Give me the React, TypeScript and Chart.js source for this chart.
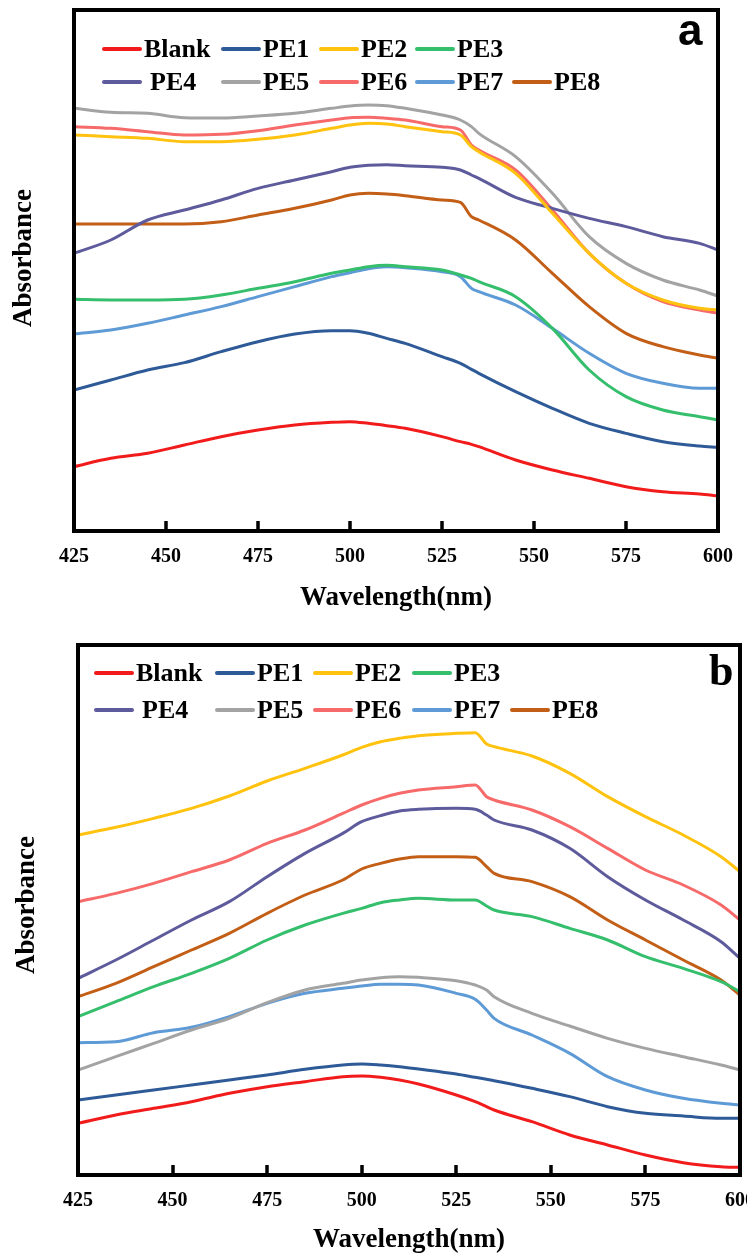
import React, { useEffect, useRef } from "react";
import { Chart, registerables } from "chart.js";

Chart.register(...registerables);

// ---------- data ----------
const WAVELENGTHS = [425, 435, 445, 455, 465, 475, 485, 495, 500, 505, 510, 515, 525, 530, 533, 535, 545, 555, 565, 575, 585, 595, 600];
const X_TICKS = [425, 450, 475, 500, 525, 550, 575, 600];
const SERIES_LABELS = ["Blank", "PE1", "PE2", "PE3", "PE4", "PE5", "PE6", "PE7", "PE8"];
const SERIES_COLORS = ["#F21B1B", "#2E5A98", "#FFC20E", "#35BE6C", "#5E5B9C", "#A3A3A3", "#F76A6A", "#5E9BD6", "#C35E16"];
const Y_TITLE = "Absorbance";
const X_TITLE = "Wavelength(nm)";

// Panel a
const A_BLANK = [0.193, 0.218, 0.233, 0.258, 0.283, 0.303, 0.318, 0.326, 0.328, 0.323, 0.316, 0.308, 0.283, 0.268, 0.260, 0.253, 0.213, 0.183, 0.158, 0.133, 0.118, 0.111, 0.105];
const A_PE1 = [0.423, 0.453, 0.483, 0.505, 0.538, 0.568, 0.591, 0.601, 0.601, 0.593, 0.578, 0.563, 0.523, 0.503, 0.485, 0.473, 0.418, 0.368, 0.323, 0.293, 0.268, 0.255, 0.251];
const A_PE2 = [1.188, 1.183, 1.178, 1.168, 1.168, 1.175, 1.188, 1.208, 1.218, 1.223, 1.221, 1.213, 1.198, 1.188, 1.153, 1.138, 1.073, 0.953, 0.833, 0.743, 0.693, 0.668, 0.663];
const A_PE3 = [0.695, 0.693, 0.693, 0.695, 0.708, 0.728, 0.748, 0.773, 0.783, 0.793, 0.797, 0.793, 0.783, 0.768, 0.758, 0.748, 0.703, 0.608, 0.483, 0.403, 0.363, 0.343, 0.333];
const A_PE4 = [0.833, 0.873, 0.933, 0.963, 0.993, 1.028, 1.053, 1.078, 1.091, 1.097, 1.099, 1.096, 1.091, 1.083, 1.068, 1.058, 1.001, 0.968, 0.938, 0.913, 0.883, 0.863, 0.843];
const A_PE5 = [1.268, 1.256, 1.253, 1.240, 1.239, 1.245, 1.253, 1.268, 1.275, 1.278, 1.276, 1.268, 1.248, 1.233, 1.213, 1.193, 1.123, 1.013, 0.883, 0.803, 0.753, 0.723, 0.705];
const A_PE6 = [1.213, 1.208, 1.198, 1.188, 1.190, 1.201, 1.218, 1.233, 1.240, 1.241, 1.238, 1.233, 1.213, 1.203, 1.158, 1.143, 1.083, 0.963, 0.833, 0.743, 0.688, 0.663, 0.653];
const A_PE7 = [0.591, 0.603, 0.623, 0.648, 0.673, 0.703, 0.733, 0.763, 0.775, 0.787, 0.793, 0.790, 0.778, 0.763, 0.728, 0.718, 0.678, 0.608, 0.533, 0.473, 0.443, 0.428, 0.428];
const A_PE8 = [0.921, 0.921, 0.921, 0.921, 0.928, 0.948, 0.968, 0.993, 1.008, 1.013, 1.011, 1.006, 0.993, 0.986, 0.943, 0.933, 0.873, 0.773, 0.673, 0.593, 0.553, 0.528, 0.518];

// Panel b
const B_BLANK = [0.155, 0.180, 0.200, 0.220, 0.245, 0.265, 0.280, 0.295, 0.297, 0.293, 0.285, 0.273, 0.240, 0.220, 0.205, 0.195, 0.160, 0.120, 0.090, 0.060, 0.037, 0.025, 0.023];
const B_PE1 = [0.225, 0.240, 0.255, 0.270, 0.285, 0.300, 0.317, 0.330, 0.333, 0.330, 0.325, 0.318, 0.303, 0.293, 0.287, 0.283, 0.260, 0.235, 0.205, 0.185, 0.177, 0.170, 0.170];
const B_PE2 = [1.020, 1.043, 1.070, 1.100, 1.137, 1.182, 1.220, 1.260, 1.283, 1.300, 1.310, 1.318, 1.325, 1.327, 1.293, 1.285, 1.257, 1.205, 1.135, 1.075, 1.020, 0.955, 0.910];
const B_PE3 = [0.475, 0.520, 0.565, 0.605, 0.650, 0.705, 0.750, 0.785, 0.800, 0.817, 0.825, 0.830, 0.825, 0.825, 0.807, 0.795, 0.775, 0.740, 0.705, 0.655, 0.620, 0.580, 0.550];
const B_PE4 = [0.590, 0.645, 0.705, 0.765, 0.820, 0.895, 0.965, 1.025, 1.060, 1.078, 1.092, 1.097, 1.100, 1.097, 1.080, 1.065, 1.035, 0.980, 0.895, 0.825, 0.765, 0.700, 0.650];
const B_PE5 = [0.315, 0.355, 0.395, 0.435, 0.470, 0.517, 0.555, 0.575, 0.585, 0.592, 0.595, 0.593, 0.583, 0.570, 0.555, 0.535, 0.485, 0.447, 0.410, 0.380, 0.355, 0.330, 0.315];
const B_PE6 = [0.820, 0.845, 0.875, 0.910, 0.945, 0.995, 1.035, 1.085, 1.110, 1.130, 1.145, 1.155, 1.165, 1.170, 1.135, 1.125, 1.095, 1.045, 0.980, 0.915, 0.870, 0.810, 0.765];
const B_PE7 = [0.397, 0.400, 0.427, 0.443, 0.475, 0.515, 0.545, 0.560, 0.567, 0.572, 0.572, 0.570, 0.545, 0.527, 0.495, 0.470, 0.420, 0.365, 0.295, 0.255, 0.230, 0.215, 0.210];
const B_PE8 = [0.535, 0.575, 0.625, 0.675, 0.725, 0.785, 0.840, 0.885, 0.918, 0.935, 0.948, 0.955, 0.955, 0.953, 0.925, 0.905, 0.880, 0.835, 0.765, 0.705, 0.645, 0.585, 0.540];

const SERIES_A = [A_BLANK, A_PE1, A_PE2, A_PE3, A_PE4, A_PE5, A_PE6, A_PE7, A_PE8];
const SERIES_B = [B_BLANK, B_PE1, B_PE2, B_PE3, B_PE4, B_PE5, B_PE6, B_PE7, B_PE8];

const SERIF = '"Liberation Serif", "Times New Roman", serif';
const SANS = '"Liberation Sans", Arial, sans-serif';

// ---------- decoration plugin: frame, inner ticks, y title, inside legend, panel letter ----------
const decoPlugin = {
  id: "deco",
  afterDraw(chart: any, _args: any, opts: any) {
    const ctx = chart.ctx;
    const ca = chart.chartArea;
    ctx.save();
    // frame
    ctx.strokeStyle = "#000";
    ctx.lineWidth = 4;
    ctx.strokeRect(ca.left, ca.top, ca.right - ca.left, ca.bottom - ca.top);
    // inner tick marks on x axis
    const xs = chart.scales.x;
    ctx.lineWidth = 3.5;
    ctx.lineCap = "butt";
    X_TICKS.slice(1, -1).forEach((t) => {
      const px = Math.round(xs.getPixelForValue(t));
      ctx.beginPath();
      ctx.moveTo(px, ca.bottom);
      ctx.lineTo(px, ca.bottom - 10);
      ctx.stroke();
    });
    // y axis title (rotated)
    ctx.save();
    ctx.translate(opts.yTitleX, opts.yTitleY);
    ctx.rotate(-Math.PI / 2);
    ctx.font = `bold 27px ${SERIF}`;
    ctx.fillStyle = "#000";
    ctx.textAlign = "center";
    ctx.textBaseline = "middle";
    ctx.fillText(Y_TITLE, 0, 0);
    ctx.restore();
    // legend inside plot
    const cols: number[] = opts.cols;
    const rows: number[] = opts.rows;
    ctx.font = `bold 26px ${SERIF}`;
    ctx.textBaseline = "middle";
    ctx.textAlign = "left";
    chart.data.datasets.forEach((ds: any, i: number) => {
      const r = i < 4 ? 0 : 1;
      const c = i < 4 ? i : i - 4;
      const x0 = ca.left + cols[c];
      const y0 = ca.top + rows[r];
      ctx.strokeStyle = ds.borderColor;
      ctx.lineWidth = 4;
      ctx.lineCap = "round";
      ctx.beginPath();
      ctx.moveTo(x0, y0);
      ctx.lineTo(x0 + 36, y0);
      ctx.stroke();
      ctx.fillStyle = "#000";
      const gap = i === 4 ? 9 : 3;
      ctx.fillText(ds.label, x0 + 37 + gap, y0 + 1);
    });
    // panel letter
    ctx.fillStyle = "#000";
    ctx.font = opts.letterFont;
    ctx.textBaseline = "alphabetic";
    ctx.textAlign = "left";
    ctx.fillText(opts.letter, ca.right + opts.letterDx, ca.top + opts.letterDy);
    ctx.restore();
  },
};

type PanelCfg = {
  series: number[][];
  yMax: number;
  padTop: number;
  padRight: number;
  yWidth: number;
  xHeight: number;
  xTitlePad: number;
  deco: any;
};

function buildConfig(p: PanelCfg): any {
  return {
    type: "line",
    data: {
      datasets: p.series.map((vals, i) => ({
        label: SERIES_LABELS[i],
        data: WAVELENGTHS.map((x, j) => ({ x, y: vals[j] })),
        borderColor: SERIES_COLORS[i],
        backgroundColor: SERIES_COLORS[i],
        borderWidth: 3,
        pointRadius: 0,
        fill: false,
        cubicInterpolationMode: "monotone",
      })),
    },
    options: {
      animation: false,
      responsive: false,
      events: [],
      layout: { padding: { top: p.padTop, right: p.padRight, left: 0, bottom: 0 } },
      plugins: {
        legend: { display: false },
        tooltip: { enabled: false },
        deco: p.deco,
      },
      scales: {
        x: {
          type: "linear",
          min: 425,
          max: 600,
          afterFit: (s: any) => {
            s.height = p.xHeight;
          },
          afterBuildTicks: (s: any) => {
            s.ticks = X_TICKS.map((v) => ({ value: v }));
          },
          grid: { display: false, drawTicks: false },
          border: { display: false },
          ticks: {
            autoSkip: false,
            maxRotation: 0,
            padding: 14,
            color: "#000",
            font: { family: SERIF, size: 20, weight: "bold" },
          },
          title: {
            display: true,
            text: X_TITLE,
            color: "#000",
            font: { family: SERIF, size: 27, weight: "bold" },
            padding: { top: 0, bottom: p.xTitlePad },
          },
        },
        y: {
          type: "linear",
          min: 0,
          max: p.yMax,
          afterFit: (s: any) => {
            s.width = p.yWidth;
          },
          grid: { display: false, drawTicks: false },
          border: { display: false },
          ticks: { display: false },
          title: { display: false, text: Y_TITLE },
        },
      },
    },
    plugins: [decoPlugin],
  };
}

function Panel(props: { cfg: PanelCfg; width: number; height: number; top: number }) {
  const ref = useRef<HTMLCanvasElement | null>(null);
  useEffect(() => {
    if (!ref.current) return;
    const chart = new Chart(ref.current, buildConfig(props.cfg));
    return () => chart.destroy();
  }, []);
  return (
    <canvas
      ref={ref}
      width={props.width}
      height={props.height}
      style={{ position: "absolute", left: 0, top: props.top, width: props.width, height: props.height, display: "block" }}
    />
  );
}

const PANEL_A: PanelCfg = {
  series: SERIES_A,
  yMax: 1.563,
  padTop: 10,
  padRight: 20,
  yWidth: 74,
  xHeight: 89,
  xTitlePad: 6,
  deco: {
    cols: [30, 149, 247, 343, 440],
    rows: [39, 72],
    letter: "a",
    letterFont: `bold 44px ${SANS}`,
    letterDx: -40,
    letterDy: 35,
    yTitleX: 24,
    yTitleY: 258,
  },
};

const PANEL_B: PanelCfg = {
  series: SERIES_B,
  yMax: 1.59,
  padTop: 25,
  padRight: 40,
  yWidth: 78,
  xHeight: 83,
  xTitlePad: 2,
  deco: {
    cols: [18, 139, 237, 336, 434],
    rows: [28, 65],
    letter: "b",
    letterFont: `bold 44px ${SERIF}`,
    letterDx: -31,
    letterDy: 40,
    yTitleX: 27,
    yTitleY: 285,
  },
};

export default function App() {
  return (
    <div style={{ position: "absolute", left: 0, top: 0, width: 747, height: 1258, overflow: "hidden", background: "#fff" }}>
      <Panel cfg={PANEL_A} width={747} height={620} top={0} />
      <Panel cfg={PANEL_B} width={780} height={638} top={620} />
    </div>
  );
}
